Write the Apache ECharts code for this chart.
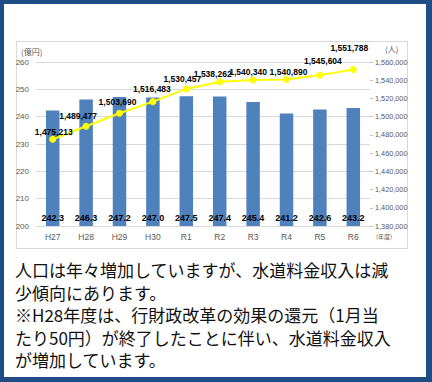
<!DOCTYPE html>
<html><head><meta charset="utf-8">
<script src="https://cdn.jsdelivr.net/npm/echarts@6/dist/echarts.min.js"></script>
<style>
html,body{margin:0;padding:0;width:432px;height:382px;overflow:hidden;background:#1f4e87;}
#inner{position:absolute;left:4px;top:4px;width:422px;height:373px;background:#fff;}
#box{position:absolute;left:16px;top:41px;width:392px;height:208px;box-sizing:border-box;border:1px solid #d9d9d9;}
#chart{position:absolute;left:16px;top:41px;width:392px;height:208px;}
#note{position:absolute;left:15px;top:259px;font-family:"Noto Sans CJK JP",sans-serif;font-size:17px;color:#111;white-space:nowrap;}
#note div{height:22.5px;line-height:22.5px;}
</style></head>
<body>
<div id="inner"></div>
<div id="box"></div>
<div id="chart"></div>
<div id="note"><div>人口は年々増加していますが、水道料金収入は減</div><div>少傾向にあります。</div><div>※H28年度は、行財政改革の効果の還元（1月当</div><div>たり50円）が終了したことに伴い、水道料金収入</div><div>が増加しています。</div></div>
<script>
const categories = ['H27','H28','H29','H30','R1','R2','R3','R4','R5','R6'];
const revenue = [242.3, 246.3, 247.2, 247.0, 247.5, 247.4, 245.4, 241.2, 242.6, 243.2];
const population = [1475213, 1489477, 1503690, 1516483, 1530457, 1538262, 1540340, 1540890, 1545604, 1551788];
// label offsets (style only)
const popLabelOffsets = [[1,1],[-8,-2],[-2,-3],[-1,-5],[-4,-2],[-7,0],[-5,0],[2,1],[3,-6],[-4,-13]];

const fam = '"Liberation Sans",Arial,sans-serif';
const chart = echarts.init(document.getElementById('chart'), null, {renderer:'svg'});
chart.setOption({
  animation:false,
  grid:{left:20,right:38,top:21,bottom:23,outerBoundsMode:'none',containLabel:false},
  xAxis:{type:'category',data:categories,
    axisLine:{show:true,lineStyle:{color:'#d9d9d9'}},
    axisTick:{show:false},
    axisLabel:{margin:6,fontFamily:fam,fontSize:8.5,color:'#595959'}},
  yAxis:[
    {type:'value',min:200,max:260,interval:10,
      axisLine:{show:false},axisTick:{show:false},
      splitLine:{lineStyle:{color:'#d9d9d9',width:1}},
      axisLabel:{margin:7,fontFamily:fam,fontSize:8,color:'#595959'}},
    {type:'value',min:1380000,max:1560000,interval:20000,position:'right',
      axisLine:{show:false},axisTick:{show:true,length:3,lineStyle:{color:'#bfbfbf'}},
      splitLine:{show:false},
      axisLabel:{margin:5,fontFamily:fam,fontSize:7.3,color:'#595959',formatter:v=>v.toLocaleString('en-US')}}
  ],
  graphic:[
    {type:'text',left:5,top:6,style:{text:'(億円)',font:'8px "Noto Sans CJK JP"',fill:'#595959'}},
    {type:'text',left:369,top:3,style:{text:'(人)',font:'8px "Noto Sans CJK JP"',fill:'#595959'}},
    {type:'text',left:360,top:192,style:{text:'(年度)',font:'6px "Noto Sans CJK JP"',fill:'#595959'}}
  ],
  series:[
    {type:'bar',data:revenue,yAxisIndex:0,barWidth:13.5,
      itemStyle:{color:'#4f81bd'},
      label:{show:true,position:'insideBottom',distance:4,formatter:p=>p.value.toFixed(1),
        fontFamily:fam,fontWeight:'bold',fontSize:9,color:'#000'}},
    {type:'line',data:population.map((v,i)=>({value:v,label:{offset:popLabelOffsets[i]}})),yAxisIndex:1,z:5,
      lineStyle:{color:'#ffff00',width:2},itemStyle:{color:'#ffff00'},
      symbol:'circle',symbolSize:7,
      label:{show:true,position:'top',distance:0,formatter:p=>p.value.toLocaleString('en-US'),
        fontFamily:fam,fontWeight:'bold',fontSize:8.5,color:'#000'}}
  ]
});
</script>
</body></html>
